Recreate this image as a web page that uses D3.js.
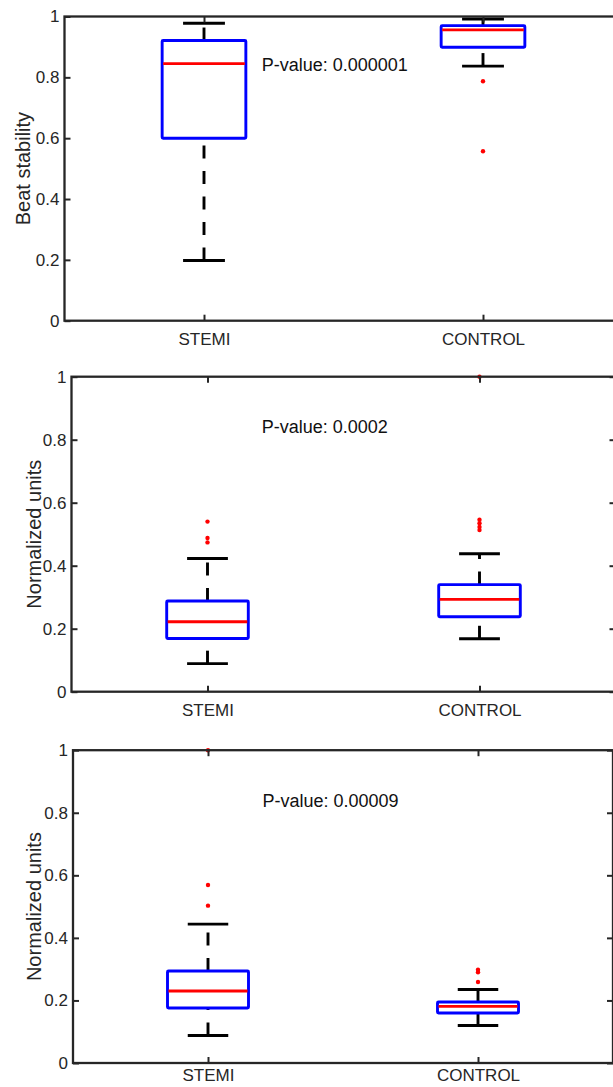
<!DOCTYPE html>
<html>
<head>
<meta charset="utf-8">
<script src="https://cdn.jsdelivr.net/npm/d3@7"></script>
<style>
  html, body { margin: 0; padding: 0; background: #ffffff; overflow: hidden; }
  svg { display: block; }
  text { font-family: "Liberation Sans", Arial, Helvetica, sans-serif; fill: #262626; }
</style>
</head>
<body>
<svg id="chart" width="613" height="1087"></svg>
<script>
// ---------------- DATA ----------------
const categories = ["STEMI", "CONTROL"];
const yTicks = [0, 0.2, 0.4, 0.6, 0.8, 1];
const yTickLabels = ["0", "0.2", "0.4", "0.6", "0.8", "1"];
const yLabels = ["Beat stability", "Normalized units", "Normalized units"];
const pValueLabels = ["P-value: 0.000001", "P-value: 0.0002", "P-value: 0.00009"];

// box stats: [lower whisker, Q1, median, Q3, upper whisker]
const beatStemi = [0.198, 0.600, 0.845, 0.921, 0.978];
const beatControl = [0.837, 0.899, 0.956, 0.970, 0.992];
const beatStemiOutliers = [];
const beatControlOutliers = [0.787, 0.557];

const units1Stemi = [0.089, 0.169, 0.222, 0.288, 0.423];
const units1Control = [0.168, 0.238, 0.293, 0.340, 0.438];
const units1StemiOutliers = [0.540, 0.488, 0.474];
const units1ControlOutliers = [1.0, 0.546, 0.535, 0.523, 0.513];

const units2Stemi = [0.088, 0.176, 0.230, 0.294, 0.444];
const units2Control = [0.120, 0.160, 0.181, 0.195, 0.235];
const units2StemiOutliers = [1.0, 0.569, 0.503];
const units2ControlOutliers = [0.298, 0.290, 0.259];

const panelStats = [
  [beatStemi, beatControl],
  [units1Stemi, units1Control],
  [units2Stemi, units2Control]
];
const panelOutliers = [
  [beatStemiOutliers, beatControlOutliers],
  [units1StemiOutliers, units1ControlOutliers],
  [units2StemiOutliers, units2ControlOutliers]
];

// ---------------- LAYOUT ----------------
const layout = [
  { left: 64.5, spacing: 279, top: 16.5, bottom: 320.7, ylabX: 29.5, pX: 261.7, pY: 71, xPad: 12 },
  { left: 71.5, spacing: 272, top: 376.7, bottom: 691.7, ylabX: 40.5, pX: 261.7, pY: 433, xPad: 12 },
  { left: 73, spacing: 270, top: 750.2, bottom: 1063, ylabX: 41, pX: 262.5, pY: 806.5, xPad: 6 }
];
const axisColor = "#262626";
const boxWidth = 0.3, capWidth = 0.15;
const lw = 2.9;

const svg = d3.select("#chart");

layout.forEach((L, p) => {
  const right = L.left + 2 * L.spacing;
  const x = d3.scaleLinear().domain([0.5, 2.5]).range([L.left, right]);
  const y = d3.scaleLinear().domain([0, 1]).range([L.bottom, L.top]);
  const g = svg.append("g");

  // boxes
  panelStats[p].forEach((s, i) => {
    const c = i + 1;
    const [lo, q1, med, q3, hi] = s;
    const bg = g.append("g");
    // upper whisker: starts at Q3
    bg.append("line")
      .attr("x1", x(c)).attr("x2", x(c)).attr("y1", y(q3)).attr("y2", y(hi))
      .attr("stroke", "#000").attr("stroke-width", lw).attr("stroke-dasharray", "13 12.5");
    // lower whisker: starts at lower adjacent value
    bg.append("line")
      .attr("x1", x(c)).attr("x2", x(c)).attr("y1", y(lo)).attr("y2", y(q1))
      .attr("stroke", "#000").attr("stroke-width", lw).attr("stroke-dasharray", "13 12.5");
    // caps
    [lo, hi].forEach(v => {
      bg.append("line")
        .attr("x1", x(c - capWidth / 2)).attr("x2", x(c + capWidth / 2))
        .attr("y1", y(v)).attr("y2", y(v))
        .attr("stroke", "#000").attr("stroke-width", lw);
    });
    // box
    bg.append("rect")
      .attr("x", x(c - boxWidth / 2)).attr("y", y(q3))
      .attr("width", x(c + boxWidth / 2) - x(c - boxWidth / 2))
      .attr("height", y(q1) - y(q3))
      .attr("rx", 1).attr("stroke-linejoin", "round")
      .attr("fill", "none").attr("stroke", "#0000ff").attr("stroke-width", lw);
    // median
    bg.append("line")
      .attr("x1", x(c - boxWidth / 2) + 1).attr("x2", x(c + boxWidth / 2) - 1)
      .attr("y1", y(med)).attr("y2", y(med))
      .attr("stroke", "#ff0000").attr("stroke-width", lw);
    // outliers
    bg.selectAll("circle.out").data(panelOutliers[p][i]).enter()
      .append("circle").attr("class", "out")
      .attr("cx", x(c)).attr("cy", d => y(d)).attr("r", 2.2)
      .attr("fill", "#ff0000");
  });

  // axes (ticks inward)
  const yAxisL = d3.axisLeft(y).tickValues(yTicks).tickFormat((d, i) => yTickLabels[i])
    .tickSizeInner(-6).tickSizeOuter(0).tickPadding(5);
  const gl = g.append("g").attr("transform", `translate(${L.left},0)`).call(yAxisL);
  const yAxisR = d3.axisRight(y).tickValues(yTicks).tickFormat("").tickSizeInner(-6).tickSizeOuter(0);
  const gr = g.append("g").attr("transform", `translate(${right},0)`).call(yAxisR);
  const xAxisB = d3.axisBottom(x).tickValues([1, 2]).tickFormat(d => categories[d - 1])
    .tickSizeInner(-6).tickSizeOuter(0).tickPadding(L.xPad);
  const gb = g.append("g").attr("transform", `translate(0,${L.bottom})`).call(xAxisB);
  const xAxisT = d3.axisTop(x).tickValues([1, 2]).tickFormat("").tickSizeInner(-6).tickSizeOuter(0);
  const gt = g.append("g").attr("transform", `translate(0,${L.top})`).call(xAxisT);

  [gl, gr, gb, gt].forEach(a => {
    a.select(".domain").remove();
    a.selectAll(".tick line").attr("stroke", axisColor).attr("stroke-width", 2);
  });
  gl.selectAll(".tick text").attr("font-size", 17).attr("fill", axisColor)
    .style("font-family", '"Liberation Sans", Arial, sans-serif');
  gb.selectAll(".tick text").attr("font-size", 17).attr("fill", axisColor)
    .style("font-family", '"Liberation Sans", Arial, sans-serif');

  // frame
  g.append("rect")
    .attr("x", L.left).attr("y", L.top)
    .attr("width", right - L.left).attr("height", L.bottom - L.top)
    .attr("fill", "none").attr("stroke", axisColor).attr("stroke-width", 2.3);

  // y label
  g.append("text")
    .attr("transform", `translate(${L.ylabX},${(L.top + L.bottom) / 2}) rotate(-90)`)
    .attr("text-anchor", "middle")
    .attr("font-size", 20)
    .text(yLabels[p]);

  // p-value annotation
  g.append("text")
    .attr("x", L.pX).attr("y", L.pY)
    .attr("font-size", 18)
    .style("fill", "#111")
    .text(pValueLabels[p]);
});
</script>
</body>
</html>
